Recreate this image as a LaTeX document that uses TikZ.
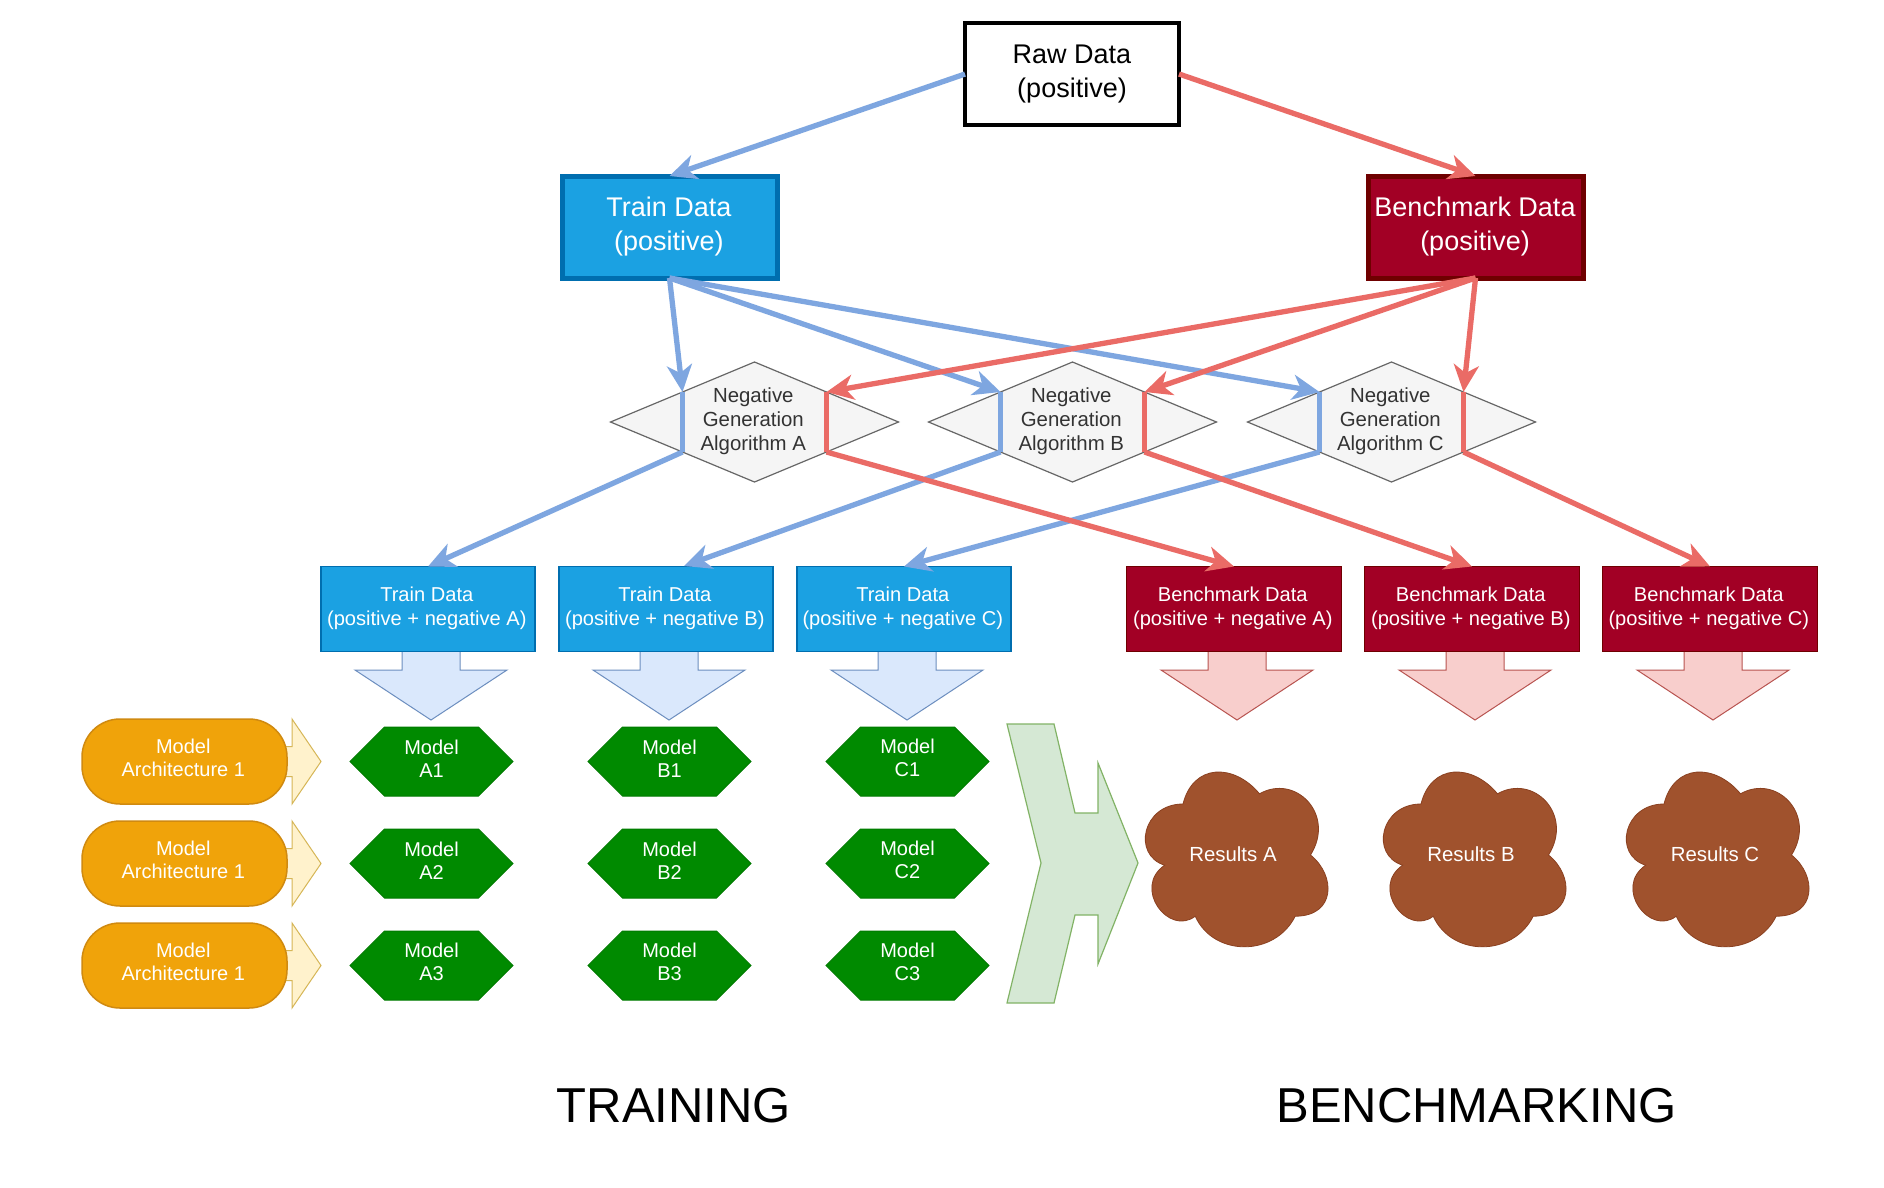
\documentclass[tikz,border=0pt]{standalone}
\usepackage{fontspec}
\setmainfont{Liberation Sans}
\usetikzlibrary{arrows.meta,shapes.geometric,shapes.symbols}
\definecolor{edgeblue}{HTML}{7EA6E0}
\definecolor{edgered}{HTML}{EA6B66}
\definecolor{trainfill}{HTML}{1BA1E2}
\definecolor{trainline}{HTML}{006EAF}
\definecolor{benchfill}{HTML}{A20025}
\definecolor{benchline}{HTML}{6F0000}
\definecolor{orangefill}{HTML}{F0A30A}
\definecolor{orangeline}{HTML}{D08A10}
\definecolor{yellowfill}{HTML}{FFF2CC}
\definecolor{yellowline}{HTML}{D6B656}
\definecolor{greenfill}{HTML}{D5E8D4}
\definecolor{greenline}{HTML}{82B366}
\definecolor{bluefill}{HTML}{DAE8FC}
\definecolor{blueline}{HTML}{6C8EBF}
\definecolor{redfill}{HTML}{F8CECC}
\definecolor{redline}{HTML}{B85450}
\definecolor{brownfill}{HTML}{A0522D}
\definecolor{brownline}{HTML}{8A4020}
\definecolor{hexfill}{HTML}{008A00}
\definecolor{hexline}{HTML}{007A00}
\definecolor{diafill}{HTML}{F5F5F5}
\definecolor{dialine}{HTML}{666666}
\tikzset{
  base/.style={outer sep=0pt,inner sep=0pt,align=center},
  bigfont/.style={font=\fontsize{27}{33.6}\selectfont},
  smallfont/.style={font=\fontsize{20.1}{24}\selectfont},
  modelfont/.style={font=\fontsize{20}{23}\selectfont},
  rawbox/.style={base,bigfont,draw=black,fill=white,line width=4.5pt,minimum width=214pt,minimum height=102pt},
  toptrain/.style={base,bigfont,text=white,draw=trainline,fill=trainfill,line width=5pt,minimum width=215pt,minimum height=102pt},
  topbench/.style={base,bigfont,text=white,draw=benchline,fill=benchfill,line width=5pt,minimum width=215pt,minimum height=102pt},
  traindata/.style={base,smallfont,text=white,draw=trainline,fill=trainfill,line width=1.5pt,minimum width=214pt,minimum height=85pt},
  benchdata/.style={base,smallfont,text=white,draw=benchline,fill=benchfill,line width=1.5pt,minimum width=215pt,minimum height=85pt},
  algo/.style={base,diamond,aspect=2.4,font=\fontsize{20.4}{24}\selectfont,text=black!80,draw=dialine,fill=diafill,line width=1.2pt,minimum width=288pt,minimum height=120pt},
  archbox/.style={base,modelfont,text=white,draw=orangeline,fill=orangefill,line width=1.5pt,rounded corners=38pt,minimum width=205pt,minimum height=85pt},
  hexa/.style={base,modelfont,text=white,signal,signal to=east and west,signal pointer angle=90,draw=hexline,fill=hexfill,line width=1pt,minimum width=163pt,minimum height=69pt},
  cloudlabel/.style={base,font=\fontsize{20.4}{24}\selectfont,text=white},
  titlelabel/.style={base,font=\fontsize{49}{55}\selectfont},
  blueedge/.style={draw=edgeblue,line width=5.3pt,-{Stealth[length=27pt,width=25pt,inset=8pt]}},
  rededge/.style={draw=edgered,line width=5.3pt,-{Stealth[length=27pt,width=25pt,inset=8pt]}},
  blueplain/.style={draw=edgeblue,line width=5pt},
  redplain/.style={draw=edgered,line width=5pt},
  downblue/.style={draw=blueline,fill=bluefill,line width=1pt},
  downred/.style={draw=redline,fill=redfill,line width=1pt},
  feed/.style={draw=yellowline,fill=yellowfill,line width=1pt},
  merge/.style={draw=greenline,fill=greenfill,line width=1.2pt},
  cloudbody/.style={draw=brownline,fill=brownfill,line width=.8pt},
}
% text displaced inside its node by (dx,dy), the node keeping its size
\newcommand{\tweak}[3]{\makebox[0pt][c]{\hspace*{#1}\raisebox{#2}[\height][\depth]{\parbox{260pt}{\centering #3}}\hspace*{-#1}}}
\newcommand{\downarrowshape}[3]{% style, apex x, half-shaft
  \draw[#1] ({#2-#3},652) -- ({#2-#3},670) -- ({#2-76},670) -- (#2,720) -- ({#2+76},670) -- ({#2+#3},670) -- ({#2+#3},652);
}
\newcommand{\feedarrow}[1]{%
  \draw[feed] (270,{#1-15}) -- (292,{#1-15}) -- (292,{#1-42.5}) -- (321,#1) -- (292,{#1+42.5}) -- (292,{#1+15}) -- (270,{#1+15}) -- cycle;
}
\newcommand{\resultcloud}[5]{% x0, y0, name, text x, text
  \begin{scope}[shift={(#1,#2)},x=204pt,y=-204pt]
    \draw[cloudbody] (0.25,0.25) .. controls (0.05,0.25) and (0,0.5) .. (0.16,0.55)
      .. controls (0,0.66) and (0.18,0.9) .. (0.31,0.8)
      .. controls (0.4,1) and (0.7,1) .. (0.8,0.8)
      .. controls (1,0.8) and (1,0.6) .. (0.875,0.5)
      .. controls (1,0.3) and (0.8,0.1) .. (0.625,0.2)
      .. controls (0.5,0.05) and (0.3,0.05) .. (0.25,0.25) -- cycle;
    \node[cloudlabel] (#3) at (#4,0.495) {#5};
  \end{scope}
}
\begin{document}
\begin{tikzpicture}[x=1pt,y=-1pt]
\useasboundingbox (0,0) rectangle (1884,1188);
\fill[white] (0,0) rectangle (1884,1188);

% top boxes
\node[rawbox] (raw) at (1072,74) {Raw Data\\(positive)};
\node[toptrain] (train) at (669.5,227) {\tweak{-0.6pt}{0.6pt}{Train Data\\(positive)}};
\node[topbench] (bench) at (1475.5,227) {\tweak{-0.5pt}{0.6pt}{Benchmark Data\\(positive)}};

% algorithms
\node[algo] (algA) at (754.5,422) {\tweak{-1.2pt}{1pt}{Negative\\Generation\\Algorithm A}};
\node[algo] (algB) at (1072.5,422) {\tweak{-1.2pt}{1pt}{Negative\\Generation\\Algorithm B}};
\node[algo] (algC) at (1391.5,422) {\tweak{-1.2pt}{1pt}{Negative\\Generation\\Algorithm C}};

% block arrows below data boxes
\downarrowshape{downblue}{431}{29}
\downarrowshape{downblue}{669}{29}
\downarrowshape{downblue}{907}{29}
\downarrowshape{downred}{1237}{29}
\downarrowshape{downred}{1475}{29}
\downarrowshape{downred}{1713}{29}

% data boxes
\node[traindata] (tA) at (428,609) {\tweak{-1.2pt}{1.2pt}{Train Data\\(positive + negative A)}};
\node[traindata] (tB) at (666,609) {\tweak{-1.2pt}{1.2pt}{Train Data\\(positive + negative B)}};
\node[traindata] (tC) at (904,609) {\tweak{-1.2pt}{1.2pt}{Train Data\\(positive + negative C)}};
\node[benchdata] (bA) at (1234,609) {\tweak{-1.2pt}{1.2pt}{Benchmark Data\\(positive + negative A)}};
\node[benchdata] (bB) at (1472,609) {\tweak{-1.2pt}{1.2pt}{Benchmark Data\\(positive + negative B)}};
\node[benchdata] (bC) at (1710,609) {\tweak{-1.2pt}{1.2pt}{Benchmark Data\\(positive + negative C)}};
\coordinate (tBin) at (684,566);

% architectures
\feedarrow{761.5}
\feedarrow{863.5}
\feedarrow{965.5}
\node[archbox] (arch1) at (184.5,761.5) {\tweak{-1.2pt}{3.2pt}{Model\\Architecture 1}};
\node[archbox] (arch2) at (184.5,863.5) {\tweak{-1.2pt}{3.2pt}{Model\\Architecture 1}};
\node[archbox] (arch3) at (184.5,965.5) {\tweak{-1.2pt}{3.2pt}{Model\\Architecture 1}};

% models
\foreach \col/\dx in {A/0,B/238,C/476}{
  \foreach \r/\yy in {1/761.5,2/863.5,3/965.5}{
    \node[hexa] (m\col\r) at ({431.5+\dx},\yy) {\tweak{0pt}{3.2pt}{Model\\\col\r}};
  }
}

% merge arrow
\draw[merge] (1007,724) -- (1054,724) -- (1075,813) -- (1098,813) -- (1098,763) -- (1138,863)
  -- (1098,964) -- (1098,915) -- (1075,915) -- (1054,1003) -- (1007,1003) -- (1041,863) -- cycle;

% results
\resultcloud{1132}{753}{resA}{0.495}{Results A}
\resultcloud{1370}{753}{resB}{0.495}{Results B}
\resultcloud{1613}{753}{resC}{0.50}{Results C}

% captions
\node[titlelabel] (capT) at (674,1106) {TRAINING};
\node[titlelabel] (capB) at (1476.5,1106) {BENCHMARKING};

% connectors
\draw[blueedge] (raw.west) -- (train.north);
\draw[rededge] (raw.east) -- (bench.north);
\foreach \a in {A,B,C}{
  \draw[blueplain] (alg\a.north west) -- (alg\a.south west);
  \draw[blueedge] (train.south) -- (alg\a.north west);
}
\draw[blueedge] (algA.south west) -- (tA.north);
\draw[blueedge] (algB.south west) -- (tBin);
\draw[blueedge] (algC.south west) -- (tC.north);
\foreach \a in {A,B,C}{
  \draw[redplain] (alg\a.north east) -- (alg\a.south east);
  \draw[rededge] (bench.south) -- (alg\a.north east);
}
\draw[rededge] (algA.south east) -- (bA.north);
\draw[rededge] (algB.south east) -- (bB.north);
\draw[rededge] (algC.south east) -- (bC.north);
\end{tikzpicture}
\end{document}
